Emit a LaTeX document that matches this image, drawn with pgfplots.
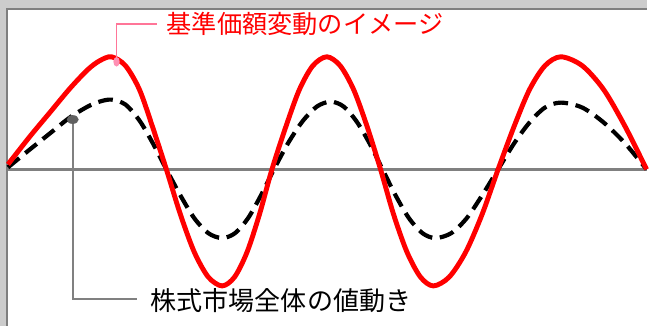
\documentclass[border=0pt]{standalone}
\usepackage{pgfplots}
\pgfplotsset{compat=1.18}
\usepackage{fontspec}
\setmainfont{Noto Sans CJK JP}
\definecolor{frameband}{HTML}{CCCCCC}
\definecolor{frameline}{HTML}{7F7F7F}
\definecolor{zeroline}{HTML}{808080}
\definecolor{navred}{HTML}{FF0000}
\definecolor{callpink}{HTML}{FF7598}
\definecolor{dotpink}{HTML}{FF90B4}
\definecolor{dotgray}{HTML}{606060}

\begin{document}
\begin{tikzpicture}
\begin{axis}[
  x=0.025cm, y=0.025cm,
  xmin=0, xmax=649, ymin=-157, ymax=170,
  axis lines=none, ticks=none, clip=false,
]
% frame: light band and dark edge at top and left
\fill[frameband] (axis cs:0,162) rectangle (axis cs:649,170);
\fill[frameband] (axis cs:0,-157) rectangle (axis cs:6,170);
\draw[frameline, line width=1.6pt] (axis cs:7,-157) -- (axis cs:7,161) -- (axis cs:649,161);

% zero line
\addplot[zeroline, line width=1.7pt, no marks] coordinates {(8,0)(649,0)};

% market (dashed)
\addplot[black, line width=3pt, dash pattern=on 10.5pt off 5.5pt, smooth, no marks] coordinates {
(8,2)(30,20)(50,36)(70,52)(88,63)(100,68)(112,70)
(126,65)(140,49)(153,27)(167,0)
(181,-26)(195,-49)(209,-64)(223,-69)
(236,-64)(249,-49)(262,-26)(275,0)
(289,26)(303.5,48)(318,63)(332,68)
(345,63)(358,48)(371,26)(384,0)
(397,-26)(410.5,-49)(424,-64)(437,-69)
(453,-64)(468.5,-49)(484,-26)(500,0)
(516,26)(531.5,47)(547,62)(563,67)
(584.5,62)(606,47)(627.5,26)(649,0)};

% fund (solid red)
\addplot[navred, line width=3.5pt, smooth, no marks] coordinates {
(8,5)(30,33)(50,57)(70,81)(88,100)(100,109)(112,113)
(126,104)(140,80)(153,43)(167,0)
(181,-45)(195,-83)(209,-108)(223,-117)
(235.5,-108)(248,-83)(260.5,-45)(273,0)
(287,43)(300.5,80)(314,104)(328,113)
(341.5,104)(355,80)(368.5,43)(382,0)
(395,-45)(408.5,-83)(422,-108)(435,-117)
(451,-108)(467.5,-83)(484,-45)(500,0)
(516,43)(531.5,80)(547,104)(563,113)
(584.5,104)(606,80)(627.5,43)(649,0)};

% callouts
\draw[callpink, line width=1.2pt] (axis cs:117,108) -- (axis cs:117,146) -- (axis cs:158,146);
\fill[dotpink] (axis cs:117,108) ellipse [x radius=0.08cm, y radius=0.12cm];
\node[anchor=west, inner sep=0pt, text=navred, font=\fontsize{18}{20}\selectfont]
  at (axis cs:167,146) {基準価額変動のイメージ};

\draw[zeroline, line width=1.6pt] (axis cs:73,50) -- (axis cs:73,-130) -- (axis cs:138,-130);
\fill[dotgray] (axis cs:73,50) ellipse [x radius=0.15cm, y radius=0.11cm];
\node[anchor=west, inner sep=0pt, text=black, font=\fontsize{18.6}{20}\selectfont]
  at (axis cs:151,-132) {株式市場全体の値動き};
\end{axis}
\end{tikzpicture}
\end{document}
